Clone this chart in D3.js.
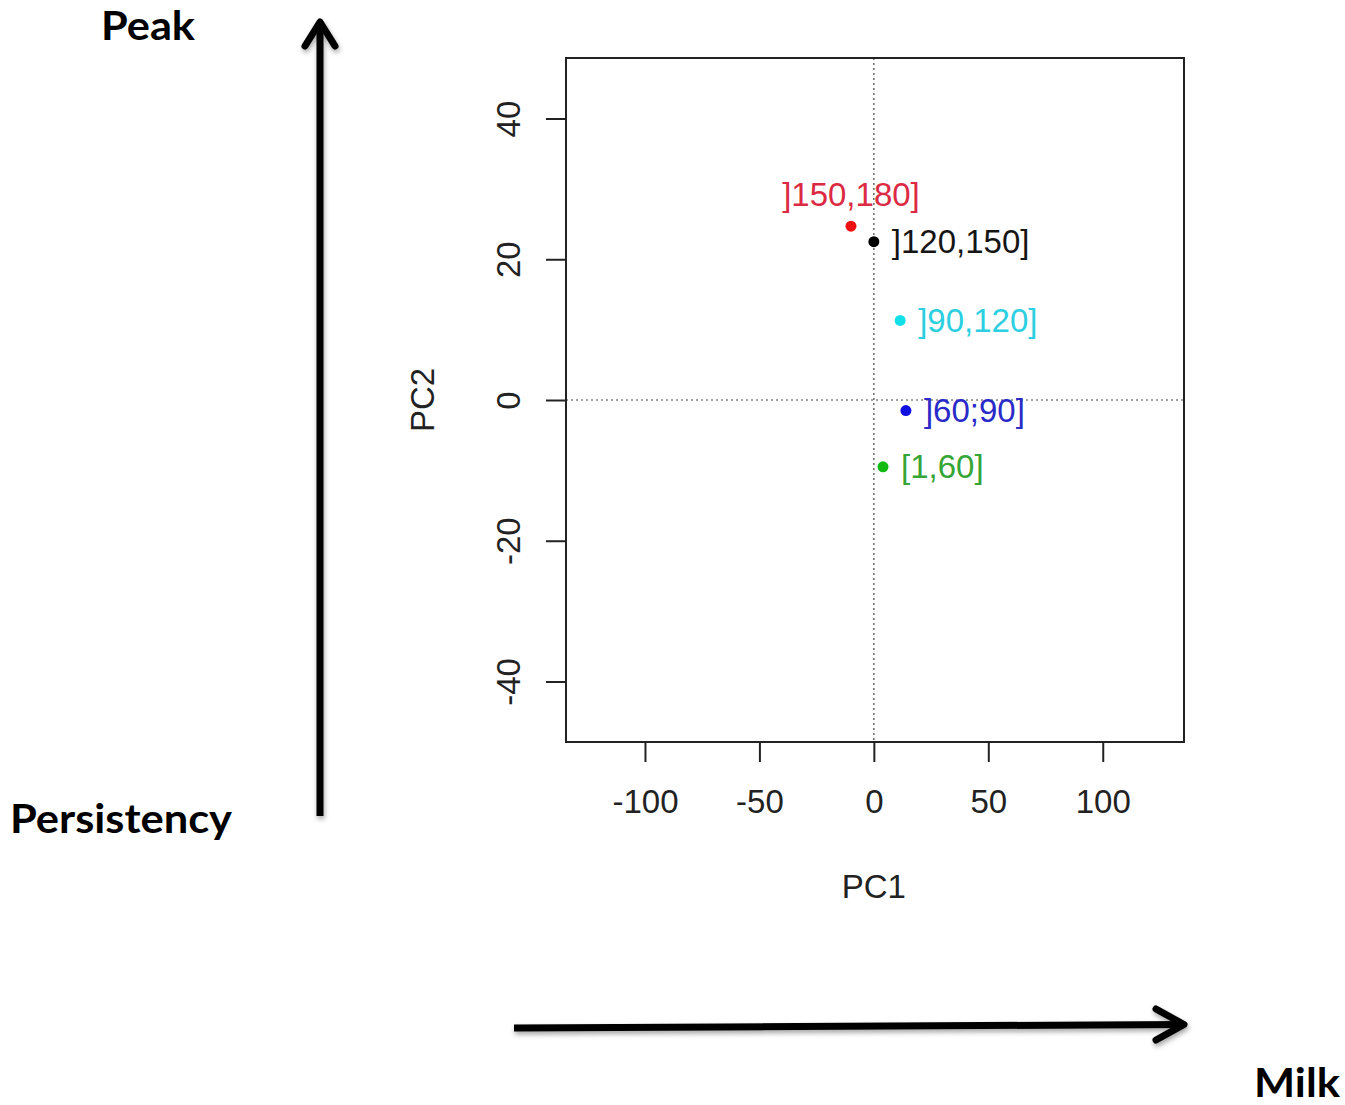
<!DOCTYPE html>
<html>
<head>
<meta charset="utf-8">
<script src="https://cdn.jsdelivr.net/npm/d3@7"></script>
<style>
  html, body { margin: 0; padding: 0; background: #fff; }
  svg { display: block; }
</style>
</head>
<body>
<script>
// Lactation-period groups projected on the first two principal components
const groups = ["]150,180]", "]120,150]", "]90,120]", "]60;90]", "[1,60]"];
const pc1 = [-10, 0, 11.5, 14, 4];
const pc2 = [24.7, 22.5, 11.3, -1.5, -9.5];
const pointColors = ["#ee1111", "#000000", "#11e0e8", "#1010e0", "#11bb11"];
const labelColors = ["#dc2a42", "#151515", "#2ccfe0", "#2a2ac8", "#35a535"];
const labelSide = ["top", "right", "right", "right", "right"];

const xTicks = [-100, -50, 0, 50, 100];
const yTicks = [-40, -20, 0, 20, 40];

const W = 1345, H = 1105;
const box = { left: 566, right: 1184, top: 58, bottom: 742 };

const svg = d3.select("body").append("svg")
  .attr("width", W).attr("height", H)
  .attr("viewBox", `0 0 ${W} ${H}`);

const defs = svg.append("defs");
const shadow = defs.append("filter").attr("id", "arrowShadow")
  .attr("x", "-20%").attr("y", "-20%").attr("width", "140%").attr("height", "140%");
shadow.append("feDropShadow")
  .attr("dx", 1).attr("dy", 3).attr("stdDeviation", 2.5)
  .attr("flood-color", "#000").attr("flood-opacity", 0.35);

const x = d3.scaleLinear().domain([-134.5, 135.5]).range([box.left, box.right]);
const y = d3.scaleLinear().domain([-48.6, 48.6]).range([box.bottom, box.top]);

const plotFont = "'Liberation Sans', Arial, Helvetica, sans-serif";
const fmt = d => String(d); // plain hyphen-minus, as in the original labels

// zero reference lines (dotted)
const g = svg.append("g");
g.append("line")
  .attr("x1", x(0)).attr("x2", x(0))
  .attr("y1", box.top).attr("y2", box.bottom)
  .attr("stroke", "#444").attr("stroke-width", 1.2)
  .attr("stroke-dasharray", "2,3");
g.append("line")
  .attr("x1", box.left).attr("x2", box.right)
  .attr("y1", y(0)).attr("y2", y(0))
  .attr("stroke", "#444").attr("stroke-width", 1.2)
  .attr("stroke-dasharray", "2,3");

// frame
g.append("rect")
  .attr("x", box.left).attr("y", box.top)
  .attr("width", box.right - box.left).attr("height", box.bottom - box.top)
  .attr("fill", "none").attr("stroke", "#222").attr("stroke-width", 2);

// axes
const xAxis = d3.axisBottom(x).tickValues(xTicks).tickSize(20).tickPadding(28)
  .tickFormat(fmt);
const xg = svg.append("g").attr("transform", `translate(0,${box.bottom})`).call(xAxis);
xg.select(".domain").remove();
xg.selectAll(".tick line").attr("stroke", "#222").attr("stroke-width", 2);
xg.selectAll(".tick text")
  .attr("font-family", plotFont).attr("font-size", 33).attr("fill", "#222");

const yAxis = d3.axisLeft(y).tickValues(yTicks).tickSize(20).tickPadding(0)
  .tickFormat(fmt);
const yg = svg.append("g").attr("transform", `translate(${box.left},0)`).call(yAxis);
yg.select(".domain").remove();
yg.selectAll(".tick line").attr("stroke", "#222").attr("stroke-width", 2);
yg.selectAll(".tick text")
  .attr("font-family", plotFont).attr("font-size", 33).attr("fill", "#222")
  .attr("x", null)
  .attr("text-anchor", "middle")
  .attr("transform", "translate(-58,0) rotate(-90)")
  .attr("dy", "0.35em");

// axis titles
svg.append("text")
  .attr("x", x(0)).attr("y", 898)
  .attr("text-anchor", "middle")
  .attr("font-family", plotFont).attr("font-size", 33).attr("fill", "#222")
  .text("PC1");
svg.append("text")
  .attr("transform", `translate(434,${y(0)}) rotate(-90)`)
  .attr("text-anchor", "middle")
  .attr("font-family", plotFont).attr("font-size", 33).attr("fill", "#222")
  .text("PC2");

// points and labels
const pts = groups.map((name, i) => ({ name, px: pc1[i], py: pc2[i], i }));
svg.append("g").selectAll("circle").data(pts).join("circle")
  .attr("cx", d => x(d.px)).attr("cy", d => y(d.py))
  .attr("r", 5.5)
  .attr("fill", d => pointColors[d.i]);

svg.append("g").selectAll("text").data(pts).join("text")
  .attr("x", d => labelSide[d.i] === "top" ? x(d.px) : x(d.px) + 18)
  .attr("y", d => labelSide[d.i] === "top" ? y(d.py) - 20 : y(d.py))
  .attr("dy", d => labelSide[d.i] === "top" ? "0" : "0.35em")
  .attr("text-anchor", d => labelSide[d.i] === "top" ? "middle" : "start")
  .attr("font-family", plotFont).attr("font-size", 33)
  .attr("fill", d => labelColors[d.i])
  .text(d => d.name);

// interpretation arrows
const arrows = svg.append("g").attr("filter", "url(#arrowShadow)")
  .attr("stroke", "#000").attr("fill", "none")
  .attr("stroke-linecap", "round").attr("stroke-linejoin", "round");
arrows.append("line").attr("x1", 320).attr("y1", 816).attr("x2", 320).attr("y2", 22)
  .attr("stroke-width", 7).attr("stroke-linecap", "butt");
arrows.append("polyline").attr("points", "305,46 320,22 335,46").attr("stroke-width", 7);
arrows.append("line").attr("x1", 514).attr("y1", 1028).attr("x2", 1184).attr("y2", 1024.5)
  .attr("stroke-width", 7).attr("stroke-linecap", "butt");
arrows.append("polyline").attr("points", "1156,1009 1184,1024.5 1156,1040").attr("stroke-width", 7);

// direction captions
const noteFont = "Lato, 'Open Sans', sans-serif";
const notes = [
  { text: "Peak", x: 101, y: 40, w: 94 },
  { text: "Persistency", x: 10, y: 833, w: 222 },
  { text: "Milk", x: 1254, y: 1097, w: 86 }
];
svg.append("g").selectAll("text").data(notes).join("text")
  .attr("x", d => d.x).attr("y", d => d.y)
  .attr("font-family", noteFont).attr("font-weight", 700).attr("font-size", 41)
  .attr("textLength", d => d.w).attr("lengthAdjust", "spacingAndGlyphs")
  .attr("fill", "#000").text(d => d.text);
</script>
</body>
</html>
